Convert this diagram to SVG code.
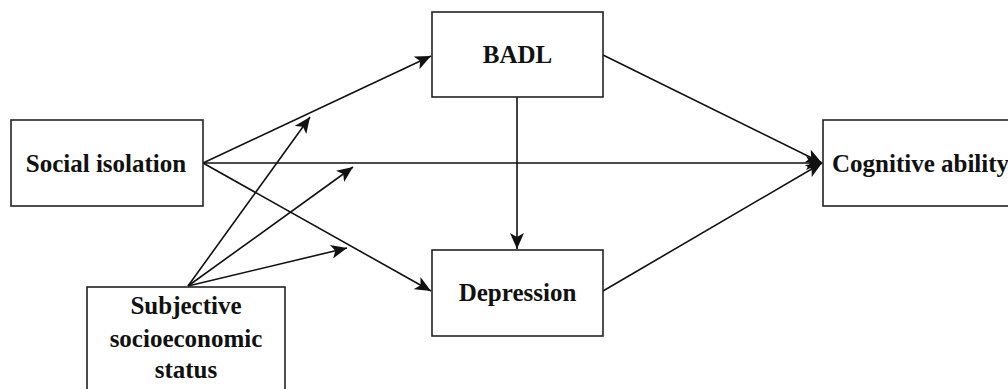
<svg xmlns="http://www.w3.org/2000/svg" width="1008" height="389" viewBox="0 0 1008 389">
<style>
.box{fill:#fff;stroke:#222;stroke-width:1.6}
.lbl{font-family:"Liberation Serif","Times New Roman",serif;font-weight:bold;font-size:25px;fill:#111}
.c{text-anchor:middle}
.ln{stroke:#111;stroke-width:1.6;fill:none;marker-end:url(#ah)}
</style>
<defs>
<marker id="ah" markerUnits="userSpaceOnUse" markerWidth="17" markerHeight="14" refX="16" refY="7" orient="auto">
<path d="M0,0 L16,7 L0,14 L4,7 Z" fill="#111"/>
</marker>
</defs>
<rect width="1008" height="389" fill="#fff"/>
<g id="connectors">
<line class="ln" x1="203" y1="163" x2="431" y2="56"/>
<line class="ln" x1="203" y1="163" x2="822" y2="163"/>
<line class="ln" x1="203" y1="163" x2="431" y2="291"/>
<line class="ln" x1="603" y1="55" x2="822" y2="163"/>
<line class="ln" x1="603" y1="291" x2="822" y2="163"/>
<line class="ln" x1="517" y1="97" x2="517" y2="249"/>
<line class="ln" x1="188" y1="286" x2="310" y2="117"/>
<line class="ln" x1="188" y1="286" x2="353" y2="167"/>
<line class="ln" x1="188" y1="286" x2="347" y2="248"/>
</g>
<g id="social-isolation">
<rect class="box" x="11" y="120" width="192" height="86"/>
<text class="lbl c" x="106" y="172">Social isolation</text>
</g>
<g id="badl">
<rect class="box" x="432" y="12" width="171" height="85"/>
<text class="lbl c" x="517.5" y="63">BADL</text>
</g>
<g id="depression">
<rect class="box" x="432" y="250" width="171" height="86"/>
<text class="lbl c" x="517.5" y="301">Depression</text>
</g>
<g id="cognitive-ability">
<rect class="box" x="823" y="120" width="200" height="86"/>
<text class="lbl" x="832" y="172">Cognitive ability</text>
</g>
<g id="subjective-ses">
<rect class="box" x="87" y="287" width="198" height="110"/>
<text class="lbl c" x="186" y="314">Subjective</text>
<text class="lbl c" x="186" y="347">socioeconomic</text>
<text class="lbl c" x="186" y="378">status</text>
</g>
</svg>
